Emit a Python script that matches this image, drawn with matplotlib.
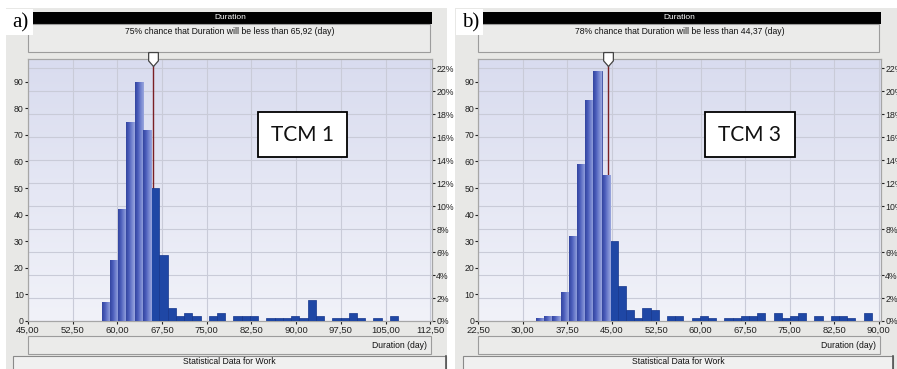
import numpy as np
import matplotlib
matplotlib.use("Agg")
import matplotlib.pyplot as plt
from matplotlib.patches import Rectangle
from matplotlib.path import Path
from matplotlib.colors import LinearSegmentedColormap
import matplotlib.transforms as mtransforms

# ---- data: panel a (TCM 1) ----
a_counts = [7, 23, 42, 75, 90, 72, 50, 25, 5, 2, 3, 2, 0, 2, 3, 0, 2, 2, 2, 0,
            1, 1, 1, 2, 1, 8, 2, 0, 1, 1, 3, 1, 0, 1, 0, 2]
a_bin_start = 57.37
a_bin_width = 1.382
a_xticks = [45.0, 52.5, 60.0, 67.5, 75.0, 82.5, 90.0, 97.5, 105.0, 112.5]
a_xlim = (45.0, 112.8)
a_marker = 65.92
a_chance = 75
a_name = "TCM 1"

# ---- data: panel b (TCM 3) ----
b_counts = [1, 2, 2, 11, 32, 59, 83, 94, 55, 30, 13, 4, 1, 5, 4, 0, 2, 2, 0, 1,
            2, 1, 0, 1, 1, 2, 2, 3, 0, 3, 1, 2, 3, 0, 2, 0, 2, 2, 1, 0, 3]
b_bin_start = 32.23
b_bin_width = 1.381
b_xticks = [22.5, 30.0, 37.5, 45.0, 52.5, 60.0, 67.5, 75.0, 82.5, 90.0]
b_xlim = (22.5, 90.4)
b_marker = 44.37
b_chance = 78
b_name = "TCM 3"

count_ticks = list(range(0, 100, 10))
pct_ticks = list(range(0, 24, 2))
y_top = 98.4

plt.rcParams['font.family'] = ['Liberation Sans', 'DejaVu Sans']

W, H = 897, 369
fig = plt.figure(figsize=(W / 100, H / 100), dpi=100)
fig.patch.set_facecolor("white")


def rect(x0, y0, x1, y1):
    return [x0 / W, 1 - y1 / H, (x1 - x0) / W, (y1 - y0) / H]


def comma(v):
    return ("%.2f" % v).replace(".", ",")


# background layer in pixel coords
bg = fig.add_axes([0, 0, 1, 1], zorder=0)
bg.set_xlim(0, W)
bg.set_ylim(H, 0)
bg.axis("off")
top = fig.add_axes([0, 0, 1, 1], zorder=20)
top.set_xlim(0, W)
top.set_ylim(H, 0)
top.axis("off")
top.patch.set_alpha(0)

gray = "#e8e8e6"
light_cmap = LinearSegmentedColormap.from_list("lb", ["#33459f", "#4b5dbb", "#7585d0", "#9aa6de"])
bg_cmap = LinearSegmentedColormap.from_list("pb", ["#f1f2f9", "#d9dcef"])

panels = [
    (a_counts, a_bin_start, a_bin_width, a_xticks, a_xlim, a_marker, a_chance, a_name, "a)",
     (6, 447), (28, 432), (13, 446), (258, 347)),
    (b_counts, b_bin_start, b_bin_width, b_xticks, b_xlim, b_marker, b_chance, b_name, "b)",
     (455, 897), (478.3, 881), (463, 893), (705, 795)),
]

for counts, start, width, xticks, xlim, marker, chance, name, tag, pane, plot_x, btn_x, tcm_x in panels:
    # window chrome
    bg.add_patch(Rectangle((pane[0], 8), pane[1] - pane[0], H - 8, facecolor=gray, edgecolor="none"))
    bg.add_patch(Rectangle((plot_x[0], 11.5), plot_x[1] - plot_x[0], 12, facecolor="black", edgecolor="none"))
    bg.text((plot_x[0] + plot_x[1]) / 2, 17.5, "Duration", color="white", fontsize=6, ha="center", va="center")
    bg.add_patch(Rectangle((plot_x[0], 24), plot_x[1] - plot_x[0] - 2, 28, facecolor="#ebebea",
                           edgecolor="#9c9c9c", lw=0.8))
    bg.text((plot_x[0] + plot_x[1]) / 2, 31.5,
            "%d%% chance that Duration will be less than %s (day)" % (chance, comma(marker)),
            fontsize=6.2, ha="center", va="center", color="#111111")
    bg.add_patch(Rectangle((plot_x[0], 335.5), plot_x[1] - plot_x[0] - 1, 18, facecolor="#ebebea",
                           edgecolor="#9c9c9c", lw=0.8))
    bg.text(plot_x[1] - 5, 345, "Duration (day)", fontsize=6.2, ha="right", va="center", color="#111111")
    bg.add_patch(Rectangle((btn_x[0], 356), btn_x[1] - btn_x[0], 15, facecolor="#f0f0f0",
                           edgecolor="#8a8a8a", lw=0.8))
    bg.plot([btn_x[1], btn_x[1]], [356, H], color="#555555", lw=1.2)
    bg.text((btn_x[0] + btn_x[1]) / 2, 362, "Statistical Data for Work", fontsize=6.2, ha="center",
            va="center", color="#111111")

    # panel tag
    top.add_patch(Rectangle((plot_x[0] - 22, 9), 27, 26, facecolor="white", edgecolor="none"))
    top.text(plot_x[0] - 8, 23, tag, fontsize=15, family="Liberation Serif", ha="center", va="center")

    # plot: ax = counts + bars (front), ax2 = percent scale + background (behind)
    ax = fig.add_axes(rect(plot_x[0], 59.3, plot_x[1], 321), zorder=3)
    ax2 = ax.twinx()
    ax2.set_zorder(2)
    ax.patch.set_visible(False)
    n = sum(counts)

    ax2.imshow(np.linspace(0, 1, 100).reshape(-1, 1), extent=[0, 1, 0, 1], transform=ax2.transAxes,
               cmap=bg_cmap, aspect="auto", origin="lower", zorder=0)
    ax2.set_ylim(0, y_top / n * 100)
    ax2.set_yticks(pct_ticks)
    ax2.set_yticklabels(["%d%%" % p for p in pct_ticks])
    ax2.grid(axis="y", color="#c9cbd8", lw=0.8)
    ax2.set_axisbelow(True)

    edges = start + width * np.arange(len(counts))
    centers = edges + width / 2
    dark = centers > marker
    ax.grid(axis="x", color="#c9cbd8", lw=0.8, zorder=0)
    ax.set_axisbelow(True)
    ax.axvline(marker, color="#7a1f24", lw=1, zorder=1)
    ax.bar(edges[dark], np.array(counts)[dark], width=width, align="edge", color="#1f47a5",
           edgecolor="#15368c", lw=0.5, zorder=3)
    light = ax.bar(edges[~dark], np.array(counts)[~dark], width=width, align="edge", color="#4b5dbb",
                   edgecolor="#2e3f98", lw=0.5, zorder=3)
    grad = np.linspace(0, 1, 50).reshape(1, -1)
    for p in light:
        if p.get_height() <= 0:
            continue
        im = ax.imshow(grad, extent=[p.get_x(), p.get_x() + p.get_width(), 0, p.get_height()],
                       cmap=light_cmap, aspect="auto", zorder=3.5)
        im.set_clip_path(p)

    ax.set_xlim(*xlim)
    ax.set_ylim(0, y_top)
    ax.set_yticks(count_ticks)
    ax.set_xticks(xticks)
    ax.set_xticklabels([comma(v) for v in xticks])

    # marker pointer
    pointer = Path([(-0.7, 1), (0.7, 1), (0.7, -0.2), (0, -1), (-0.7, -0.2), (-0.7, 1)])
    trans = mtransforms.blended_transform_factory(ax.transData, ax.transAxes)
    ax.plot([marker], [1.0], marker=pointer, markersize=10, mfc="white", mec="#444444", mew=0.9,
            transform=trans, clip_on=False, zorder=10)

    for a in (ax, ax2):
        for s in a.spines.values():
            s.set_color("#a6a6a6")
            s.set_linewidth(0.8)
        a.tick_params(axis="both", length=2, width=0.8, pad=1, labelsize=6.3, colors="#222222")
    ax.tick_params(axis="x", labelsize=6.8, pad=1.5)

    # TCM label box
    top.add_patch(Rectangle((tcm_x[0], 112.3), tcm_x[1] - tcm_x[0], 44.4, facecolor="white",
                            edgecolor="black", lw=1.3))
    top.text((tcm_x[0] + tcm_x[1]) / 2, 135, name, fontsize=15, family="Lato", ha="center",
             va="center", color="#111111")

fig.savefig("out.png", dpi=100)
